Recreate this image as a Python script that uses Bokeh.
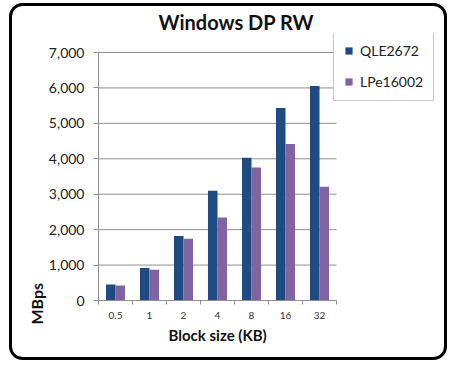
from bokeh.plotting import figure
from bokeh.models import (Range1d, FixedTicker, NumeralTickFormatter, Title,
                          Legend, LegendItem, ColumnDataSource)
from bokeh.embed import file_html
from bokeh.resources import INLINE

block_sizes = ["0.5", "1", "2", "4", "8", "16", "32"]
qle2672 = [450, 915, 1820, 3095, 4030, 5435, 6055]
lpe16002 = [425, 870, 1745, 2340, 3755, 4415, 3210]
y_ticks = [0, 1000, 2000, 3000, 4000, 5000, 6000, 7000]

FONT = "Lato"
BLUE = "#1F4A82"
PURPLE = "#8064A2"
GRID = "#8f8f8f"

n = len(block_sizes)
y_top = y_ticks[-1]
centers = [i + 0.5 for i in range(n)]
bounds = [float(i) for i in range(n + 1)]
bw = 0.28

# layout (pixels): plot area 98..336 x 52..300; frame extended to hold the legend
FL, PR, FR, PT, FT, FB = 98, 336, 440, 52, 33, 300
x_end = n * (FR - FL) / (PR - FL)
y_end = y_top * (FB - FT) / (FB - PT)

src = ColumnDataSource(dict(
    xq=[c - bw / 2 for c in centers],
    xl=[c + bw / 2 for c in centers],
    q=qle2672, l=lpe16002,
))
grid_src = ColumnDataSource(dict(
    x0=[0] * (len(y_ticks) - 1), x1=[n] * (len(y_ticks) - 1), y=y_ticks[1:],
))

frame_svg = ("data:image/svg+xml;utf8,<svg xmlns='http://www.w3.org/2000/svg' "
             "width='455' height='369'><rect x='10.5' y='4.5' width='435' height='354' "
             "rx='12' ry='12' fill='white' stroke='black' stroke-width='3'/></svg>")

p = figure(width=455, height=369, output_backend="svg", toolbar_location=None,
           x_range=Range1d(0, x_end), y_range=Range1d(0, y_end),
           min_border_left=FL, min_border_right=455 - FR, min_border_top=FT,
           min_border_bottom=369 - FB,
           styles={"background-image": f'url("{frame_svg}")',
                   "background-repeat": "no-repeat"})
p.outline_line_color = None
p.background_fill_color = None
p.background_fill_alpha = 0
p.border_fill_color = None
p.border_fill_alpha = 0

p.title.text = "Windows DP RW"
p.title.align = "left"
p.title.text_font = FONT
p.title.text_font_style = "bold"
p.title.text_font_size = "20px"
p.title.text_color = "#111111"
p.title.standoff = 0
p.title.offset = 60

p.segment(x0="x0", x1="x1", y0="y", y1="y", source=grid_src,
          line_color=GRID, line_width=1)

rq = p.vbar(x="xq", top="q", width=bw, source=src, fill_color=BLUE, line_color=None)
rl = p.vbar(x="xl", top="l", width=bw, source=src, fill_color=PURPLE, line_color=None)

# y axis
ya = p.yaxis[0]
ya.ticker = FixedTicker(ticks=y_ticks)
ya.bounds = (0, y_top)
ya.formatter = NumeralTickFormatter(format="0,0")
ya.axis_line_color = GRID
ya.major_tick_line_color = GRID
ya.major_tick_out = 5
ya.major_tick_in = 0
ya.minor_tick_line_color = None
ya.major_label_text_font = FONT
ya.major_label_text_font_size = "14px"
ya.major_label_text_color = "#222222"
ya.major_label_standoff = 9

# x axis
xa = p.xaxis[0]
xa.ticker = FixedTicker(ticks=centers, minor_ticks=bounds)
xa.bounds = (0, n)
xa.major_label_overrides = {c: s for c, s in zip(centers, block_sizes)}
xa.axis_line_color = GRID
xa.major_tick_line_color = None
xa.major_tick_out = 0
xa.major_tick_in = 0
xa.minor_tick_line_color = GRID
xa.minor_tick_out = 4
xa.minor_tick_in = 0
xa.major_label_text_font = FONT
xa.major_label_text_font_size = "10px"
xa.major_label_text_color = "#333333"
xa.major_label_standoff = 7

p.xgrid.visible = False
p.ygrid.visible = False

xtitle = Title(text="Block size (KB)", align="left", offset=70, standoff=4,
               text_font=FONT, text_font_style="bold", text_font_size="15px",
               text_color="#111111")
p.add_layout(xtitle, "below")

ytitle = Title(text="MBps", align="left", offset=-24, standoff=0,
               text_font=FONT, text_font_style="bold", text_font_size="16px",
               text_color="#111111")
p.add_layout(ytitle, "left")

legend = Legend(items=[LegendItem(label="QLE2672", renderers=[rq]),
                       LegendItem(label="LPe16002", renderers=[rl])],
                location=(235, 199), orientation="vertical")
legend.border_line_color = "#8a8f99"
legend.border_line_width = 1
legend.background_fill_color = "white"
legend.background_fill_alpha = 1
legend.label_text_font = FONT
legend.label_text_font_size = "14px"
legend.label_text_color = "#222222"
legend.glyph_width = 9
legend.glyph_height = 9
legend.label_standoff = 7
legend.padding = 10
legend.spacing = 14
legend.margin = 0
p.add_layout(legend, "center")

open("out.html", "w").write(file_html(p, INLINE))
